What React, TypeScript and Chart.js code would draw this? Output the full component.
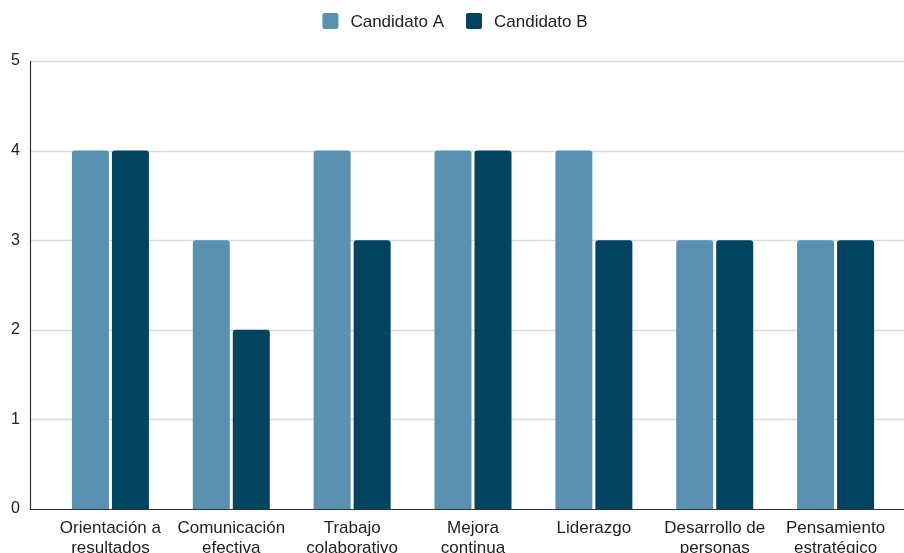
import React, { useEffect, useRef } from "react";
import { Chart, registerables } from "chart.js";

Chart.register(...registerables);

const categories: string[][] = [
  ["Orientación a", "resultados"],
  ["Comunicación", "efectiva"],
  ["Trabajo", "colaborativo"],
  ["Mejora", "continua"],
  ["Liderazgo"],
  ["Desarrollo de", "personas"],
  ["Pensamiento", "estratégico"],
];
const candidatoA: number[] = [4, 3, 4, 4, 4, 3, 3];
const candidatoB: number[] = [4, 2, 3, 4, 3, 3, 3];
const yTicks: number[] = [0, 1, 2, 3, 4, 5];

const FONT = "'Liberation Sans', Arial, sans-serif";
const TEXT = "#222222";
const AXIS_X = 30;

// Grid lines and axis lines run from the y axis to the right edge of the canvas,
// while the categories sit slightly inset from the axis.
const gridPlugin = {
  id: "sheetGrid",
  beforeDatasetsDraw(chart: any) {
    const { ctx, scales, width, chartArea } = chart;
    const y = scales.y;
    ctx.save();
    for (const v of yTicks) {
      if (v === 0) continue;
      const py = Math.round(y.getPixelForValue(v)) + 0.5;
      ctx.strokeStyle = "#d9d9d9";
      ctx.lineWidth = 1.5;
      ctx.beginPath();
      ctx.moveTo(AXIS_X, py);
      ctx.lineTo(width, py);
      ctx.stroke();
    }
    ctx.strokeStyle = "#333333";
    ctx.lineWidth = 1.2;
    ctx.beginPath();
    ctx.moveTo(AXIS_X + 0.5, chartArea.top);
    ctx.lineTo(AXIS_X + 0.5, chartArea.bottom);
    ctx.stroke();
    const base = Math.round(y.getPixelForValue(0)) + 0.5;
    ctx.beginPath();
    ctx.moveTo(AXIS_X, base);
    ctx.lineTo(width, base);
    ctx.stroke();
    ctx.restore();
  },
};

// Centered legend row above the plot, built from the datasets.
const legendPlugin = {
  id: "sheetLegend",
  afterDraw(chart: any) {
    const { ctx } = chart;
    const box = 16;
    const textGap = 12;
    const itemGap = 22;
    const cy = 21;
    ctx.save();
    ctx.font = `17px ${FONT}`;
    ctx.textBaseline = "middle";
    ctx.textAlign = "left";
    const items = chart.data.datasets.map((ds: any) => ({
      label: ds.label as string,
      color: ds.backgroundColor as string,
      w: ctx.measureText(ds.label).width,
    }));
    const total =
      items.reduce((s: number, it: any) => s + box + textGap + it.w, 0) +
      itemGap * (items.length - 1);
    let x = 455 - total / 2;
    for (const it of items) {
      ctx.fillStyle = it.color;
      ctx.beginPath();
      ctx.roundRect(x, cy - box / 2, box, box, 2);
      ctx.fill();
      ctx.fillStyle = TEXT;
      ctx.fillText(it.label, x + box + textGap, cy + 1);
      x += box + textGap + it.w + itemGap;
    }
    ctx.restore();
  },
};

export default function App() {
  const ref = useRef<HTMLCanvasElement | null>(null);

  useEffect(() => {
    if (!ref.current) return;
    const chart = new Chart(ref.current, {
      type: "bar",
      data: {
        labels: categories,
        datasets: [
          {
            label: "Candidato A",
            data: candidatoA,
            backgroundColor: "#5a90b0",
            borderRadius: { topLeft: 3, topRight: 3, bottomLeft: 0, bottomRight: 0 },
            borderSkipped: false,
            categoryPercentage: 0.662,
            barPercentage: 0.925,
          },
          {
            label: "Candidato B",
            data: candidatoB,
            backgroundColor: "#02435f",
            borderRadius: { topLeft: 3, topRight: 3, bottomLeft: 0, bottomRight: 0 },
            borderSkipped: false,
            categoryPercentage: 0.662,
            barPercentage: 0.925,
          },
        ],
      },
      options: {
        responsive: false,
        animation: false,
        layout: { padding: { top: 61, right: 19, bottom: 0, left: 0 } },
        plugins: {
          legend: { display: false },
          tooltip: { enabled: false },
        },
        scales: {
          x: {
            grid: { display: false, drawTicks: false },
            border: { display: false },
            ticks: {
              color: TEXT,
              font: { family: FONT, size: 17 },
              padding: 9,
              maxRotation: 0,
              autoSkip: false,
            },
            afterFit(scale: any) {
              scale.height = 61;
            },
          },
          y: {
            min: 0,
            max: 5,
            grid: { display: false, drawTicks: false },
            border: { display: false },
            ticks: {
              stepSize: 1,
              color: TEXT,
              font: { family: FONT, size: 16 },
              padding: 30,
            },
            afterFit(scale: any) {
              scale.width = 50;
            },
          },
        },
      },
      plugins: [gridPlugin, legendPlugin],
    });
    return () => chart.destroy();
  }, []);

  return (
    <div
      style={{
        position: "fixed",
        left: 0,
        top: 0,
        width: 904,
        height: 553,
        overflow: "hidden",
        background: "#ffffff",
      }}
    >
      <canvas ref={ref} width={915} height={570} style={{ display: "block" }} />
    </div>
  );
}
